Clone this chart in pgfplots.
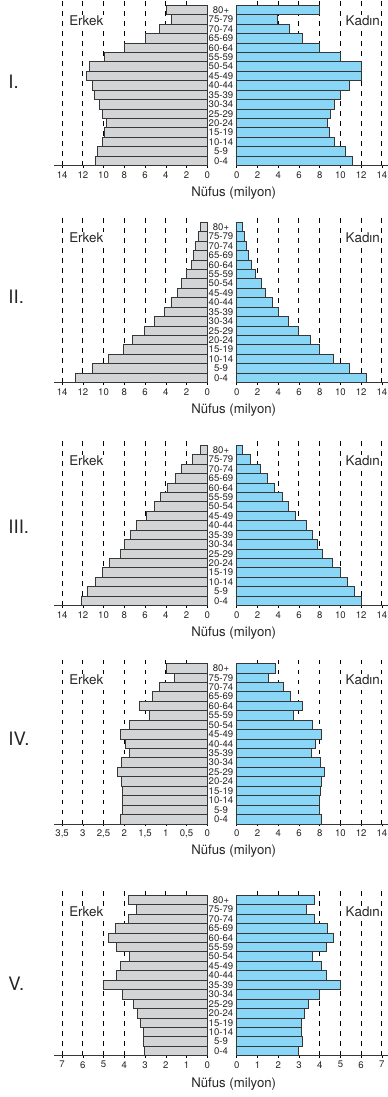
\documentclass[border=0pt]{standalone}
\usepackage{pgfplots}
\pgfplotsset{compat=1.18}
\usepackage{fontspec}
\setmainfont{TeX Gyre Heros}
\definecolor{mgray}{RGB}{211,212,214}
\definecolor{mblue}{RGB}{137,214,246}
\definecolor{edge}{RGB}{55,55,55}
\pgfplotsset{
 pyr/.style={scale only axis, height=167.1bp, ymin=-0.5, ymax=17.2, xmin=0,
   axis x line=bottom, axis line style={-, line width=0.9bp, draw=edge},
   xmajorgrids, grid style={black, line width=0.9bp, dash pattern=on 4.5bp off 5.5bp},
   tick align=outside, major tick length=2bp, x tick style={black, line width=0.6bp},
   xticklabel style={font=\fontsize{9.6bp}{10bp}\selectfont, text=black!85},
   /pgf/number format/assume math mode=true,
   extra x ticks={0}, extra x tick style={grid=none},
   clip=false},
 pyrL/.style={pyr, anchor=south east, x dir=reverse, axis y line=none},
 pyrR/.style={pyr, anchor=south west, axis y line=left, y axis line style={draw=none},
   ytick={0,...,16},
   yticklabels={0-4,5-9,10-14,15-19,20-24,25-29,30-34,35-39,40-44,45-49,50-54,55-59,60-64,65-69,70-74,75-79,80+},
   ytick style={draw=none},
   yticklabel style={anchor=center, xshift=-14.7bp, font=\fontsize{9.6bp}{10bp}\selectfont, text=black!85, inner sep=0pt}},
 barL/.style={xbar, bar width=1, bar shift=0pt, fill=mgray, draw=edge, line width=0.9bp},
 barR/.style={xbar, bar width=1, bar shift=0pt, fill=mblue, draw=edge, line width=0.9bp},
}
\newcommand{\lbl}[2]{%
  \node[anchor=center, inner sep=0.3bp, fill=white, text=black!85, font=\fontsize{13.4bp}{14bp}\selectfont] at (86.3bp,-#1) {Erkek};
  \node[anchor=center, inner sep=0.3bp, fill=white, text=black!85, font=\fontsize{13.4bp}{14bp}\selectfont] at (362.8bp,-#1) {Kadın};
  \node[anchor=center, inner sep=0pt, text=black!85, font=\fontsize{13.2bp}{14bp}\selectfont] at (233.7bp,-#2) {Nüfus (milyon)};
}
\begin{document}
\begin{tikzpicture}
\path[use as bounding box] (0,0) rectangle (388bp,-1097bp);

% ---------------- Panel I ----------------
\begin{axis}[pyrL, at={(207.3bp,-165.7bp)}, width=153.5bp, xmax=14.8, xtick={2,4,...,14}]
\addplot[barL] coordinates {(10.8,0) (10.6,1) (10.1,2) (9.95,3) (9.7,4) (10.1,5) (10.4,6) (10.85,7) (11.05,8) (11.7,9) (11.35,10) (9.95,11) (8.0,12) (5.95,13) (4.6,14) (3.5,15) (3.95,16)};
\end{axis}
\begin{axis}[pyrR, at={(236.7bp,-165.7bp)}, width=153.5bp, xmax=14.8, xtick={2,4,...,14}]
\addplot[barR] coordinates {(11.15,0) (10.5,1) (9.4,2) (8.9,3) (8.75,4) (9.0,5) (9.4,6) (10.0,7) (10.9,8) (12.0,9) (12.0,10) (10.0,11) (8.0,12) (6.3,13) (5.05,14) (3.95,15) (8.0,16)};
\end{axis}
\lbl{20.7bp}{193.2bp}
\node[anchor=west, inner sep=0pt, text=black!85, font=\fontsize{18.5bp}{20bp}\selectfont] at (8.3bp,-81.7bp) {I.};

% ---------------- Panel II ----------------
\begin{axis}[pyrL, at={(207.3bp,-382.7bp)}, width=153.5bp, xmax=14.8, xtick={2,4,...,14}]
\addplot[barL] coordinates {(12.7,0) (11.1,1) (9.5,2) (8.1,3) (7.2,4) (6.1,5) (5.1,6) (4.1,7) (3.5,8) (2.9,9) (2.5,10) (2.0,11) (1.5,12) (1.3,13) (1.1,14) (0.9,15) (0.7,16)};
\end{axis}
\begin{axis}[pyrR, at={(236.7bp,-382.7bp)}, width=153.5bp, xmax=14.8, xtick={2,4,...,14}]
\addplot[barR] coordinates {(12.55,0) (10.9,1) (9.3,2) (8.0,3) (7.1,4) (6.0,5) (5.0,6) (4.0,7) (3.4,8) (2.8,9) (2.4,10) (1.8,11) (1.4,12) (1.15,13) (0.95,14) (0.75,15) (0.6,16)};
\end{axis}
\lbl{237.7bp}{410.2bp}
\node[anchor=west, inner sep=0pt, text=black!85, font=\fontsize{18.5bp}{20bp}\selectfont] at (8.3bp,-296.7bp) {II.};

% ---------------- Panel III ----------------
\begin{axis}[pyrL, at={(207.3bp,-605.7bp)}, width=153.5bp, xmax=14.8, xtick={2,4,...,14}]
\addplot[barL] coordinates {(12.1,0) (11.6,1) (10.8,2) (10.1,3) (9.4,4) (8.4,5) (8.0,6) (7.4,7) (6.8,8) (5.9,9) (5.1,10) (4.5,11) (3.8,12) (3.1,13) (2.5,14) (1.4,15) (0.7,16)};
\end{axis}
\begin{axis}[pyrR, at={(236.7bp,-605.7bp)}, width=153.5bp, xmax=14.8, xtick={2,4,...,14}]
\addplot[barR] coordinates {(12.0,0) (11.4,1) (10.7,2) (10.0,3) (9.2,4) (8.3,5) (7.8,6) (7.3,7) (6.7,8) (5.7,9) (5.0,10) (4.4,11) (3.65,12) (3.0,13) (2.3,14) (1.3,15) (0.6,16)};
\end{axis}
\lbl{460.3bp}{633.2bp}
\node[anchor=west, inner sep=0pt, text=black!85, font=\fontsize{18.5bp}{20bp}\selectfont] at (8.3bp,-526.7bp) {III.};

% ---------------- Panel IV ----------------
\begin{axis}[pyrL, at={(207.3bp,-824bp)}, width=153.5bp, xmax=3.7, xtick={0.5,1,...,3.5}, /pgf/number format/use comma]
\addplot[barL] coordinates {(2.09,0) (2.04,1) (2.04,2) (2.04,3) (2.07,4) (2.16,5) (2.06,6) (1.87,7) (1.97,8) (2.09,9) (1.88,10) (1.4,11) (1.64,12) (1.33,13) (1.15,14) (0.8,15) (0.99,16)};
\end{axis}
\begin{axis}[pyrR, at={(236.7bp,-824bp)}, width=153.5bp, xmax=14.8, xtick={2,4,...,14}]
\addplot[barR] coordinates {(8.2,0) (7.98,1) (7.98,2) (8.08,3) (8.14,4) (8.46,5) (8.04,6) (7.24,7) (7.63,8) (8.14,9) (7.28,10) (5.45,11) (6.38,12) (5.16,13) (4.46,14) (3.04,15) (3.78,16)};
\end{axis}
\lbl{680bp}{851.5bp}
\node[anchor=west, inner sep=0pt, text=black!85, font=\fontsize{18.5bp}{20bp}\selectfont] at (8.3bp,-738.3bp) {IV.};

% ---------------- Panel V ----------------
\begin{axis}[pyrL, at={(207.3bp,-1055.7bp)}, width=153.5bp, xmax=7.4, xtick={1,...,7}]
\addplot[barL] coordinates {(3.03,0) (3.09,1) (3.09,2) (3.2,3) (3.36,4) (3.56,5) (4.09,6) (5.02,7) (4.39,8) (4.18,9) (3.77,10) (4.39,11) (4.78,12) (4.44,13) (3.81,14) (3.43,15) (3.81,16)};
\end{axis}
\begin{axis}[pyrR, at={(236.7bp,-1055.7bp)}, width=153.5bp, xmax=7.4, xtick={1,...,7}]
\addplot[barR] coordinates {(2.96,0) (3.16,1) (3.13,2) (3.14,3) (3.27,4) (3.48,5) (4.0,6) (4.98,7) (4.31,8) (4.1,9) (3.67,10) (4.31,11) (4.66,12) (4.36,13) (3.75,14) (3.37,15) (3.75,16)};
\end{axis}
\lbl{911.7bp}{1084bp}
\node[anchor=west, inner sep=0pt, text=black!85, font=\fontsize{18.5bp}{20bp}\selectfont] at (8.3bp,-983.3bp) {V.};
\end{tikzpicture}
\end{document}
